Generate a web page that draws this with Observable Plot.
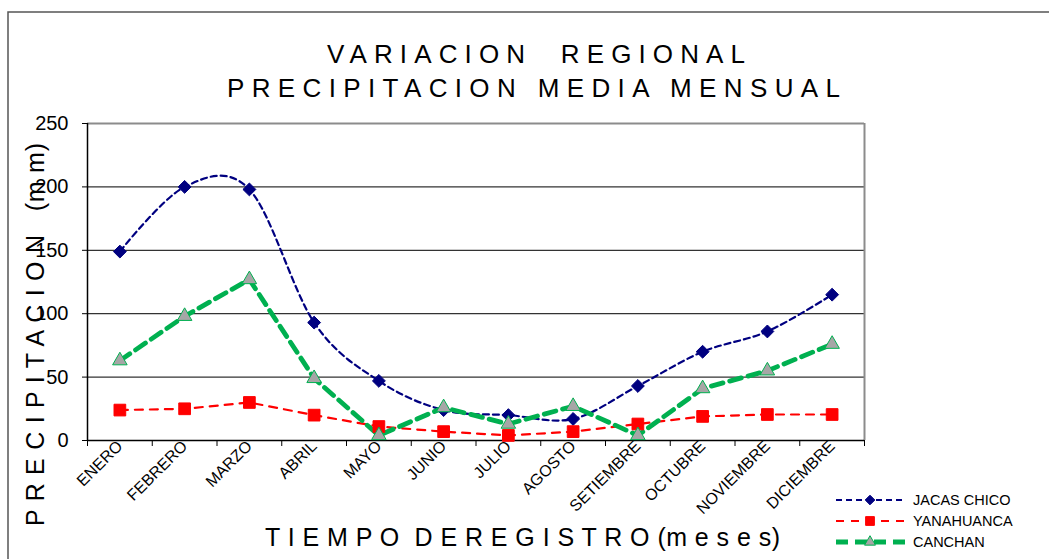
<!DOCTYPE html>
<html>
<head>
<meta charset="utf-8">
<script src="https://cdn.jsdelivr.net/npm/d3@7"></script>
<script src="https://cdn.jsdelivr.net/npm/@observablehq/plot@0.6"></script>
<style>
  html, body { margin: 0; padding: 0; background: #fff; }
  #chart { width: 1049px; height: 559px; }
</style>
</head>
<body>
<div id="chart"></div>
<script>
// Monthly mean precipitation (mm) for three stations
const months = ["ENERO", "FEBRERO", "MARZO", "ABRIL", "MAYO", "JUNIO", "JULIO",
                "AGOSTO", "SETIEMBRE", "OCTUBRE", "NOVIEMBRE", "DICIEMBRE"];
const jacasChico = [149, 200, 198, 93, 47, 24, 20, 17, 43, 70, 86, 115];
const yanahuanca = [24, 25, 30, 20, 11, 7, 4, 7, 13, 19, 20.5, 20.5];
const canchan    = [63, 98, 127, 49, 4, 26, 13, 27, 4, 41, 55, 76];
const yTicks = [0, 50, 100, 150, 200, 250];

const seriesNames = ["JACAS CHICO", "YANAHUANCA", "CANCHAN"];
const seriesValues = [jacasChico, yanahuanca, canchan];

const styles = {
  "JACAS CHICO": {color: "#000080", width: 2.2, dash: "6,4", symbol: "diamond2", r: 5.8, fill: "#000080", mstroke: "#000080", curve: "cardinal"},
  "YANAHUANCA":  {color: "#ff0000", width: 2.2, dash: "8,7", symbol: "square",   r: 6.6, fill: "#ff0000", mstroke: "#ff0000", curve: "linear"},
  "CANCHAN":     {color: "#00b050", width: 4.8, dash: "12,7", symbol: "triangle", r: 5.4, fill: "#a6a6a6", mstroke: "#00b050", curve: "linear"}
};

// Long table: one row per station and month
const rows = seriesNames.flatMap((name, s) =>
  seriesValues[s].map((v, i) => ({station: name, i, month: months[i], value: v})));

const boundaries = d3.range(13).map(k => k - 0.5);

const lineMarks = seriesNames.map(name => {
  const st = styles[name];
  const data = rows.filter(d => d.station === name);
  return Plot.line(data, {x: "i", y: "value", stroke: st.color, strokeWidth: st.width,
                          strokeDasharray: st.dash, curve: st.curve});
});
const markerMarks = seriesNames.map(name => {
  const st = styles[name];
  const data = rows.filter(d => d.station === name);
  return Plot.dot(data, {x: "i", y: "value", symbol: st.symbol, r: st.r,
                         fill: st.fill, stroke: st.mstroke, strokeWidth: 1});
});

const chart = Plot.plot({
  width: 1049,
  height: 559,
  marginLeft: 87,
  marginRight: 185,
  marginTop: 123,
  marginBottom: 119,
  style: {fontFamily: "'Liberation Sans', Arial, sans-serif", background: "#fff", color: "#000"},
  x: {type: "linear", domain: [-0.5, 11.5]},
  y: {domain: [0, 250]},
  marks: [
    Plot.ruleY([50, 100, 150, 200], {stroke: "#333", strokeWidth: 1.2}),
    Plot.ruleY([250], {stroke: "#8c8c8c", strokeWidth: 2}),
    Plot.ruleX([11.5], {stroke: "#8c8c8c", strokeWidth: 2}),
    Plot.axisY(yTicks, {tickSize: 5, tickPadding: 14, fontSize: 20, label: null, stroke: "#000"}),
    Plot.axisX(boundaries, {tickSize: 6, tickFormat: () => "", label: null, stroke: "#000"}),
    Plot.axisX(d3.range(12), {tickSize: 0, tickPadding: 3, tickRotate: -45,
                              tickFormat: i => months[i], fontSize: 16, label: null}),
    Plot.ruleY([0], {stroke: "#000", strokeWidth: 1.5}),
    Plot.ruleX([-0.5], {stroke: "#000", strokeWidth: 1.5}),
    ...lineMarks,
    ...markerMarks
  ]
});

document.getElementById("chart").appendChild(chart);

// Titles, axis captions, outer frame and legend drawn on top of the plot's SVG
const svg = d3.select(chart);
const font = "'Liberation Sans', Arial, sans-serif";

svg.append("path")
  .attr("d", "M8,559 L8,12 L1049,12")
  .attr("fill", "none").attr("stroke", "#555").attr("stroke-width", 1.5);

function spaced(text, x, y, len, size, rotate) {
  const t = svg.append("text")
    .attr("font-family", font).attr("font-size", size).attr("fill", "#000")
    .attr("textLength", len).attr("lengthAdjust", "spacing")
    .attr("text-anchor", "start")
    .style("white-space", "pre")
    .attr("xml:space", "preserve")
    .text(text);
  if (rotate) t.attr("transform", `translate(${x},${y}) rotate(-90)`);
  else t.attr("x", x).attr("y", y);
  return t;
}

spaced("VARIACION  REGIONAL", 327, 63, 418, 26);
spaced("PRECIPITACION MEDIA MENSUAL", 227, 97, 613, 26);
spaced("P R E C I P I T A C I O N   (m m)", 44, 526, 383, 25, true);
spaced("T I E M P O  D E R E G I S T R O (m e s e s)", 265, 546, 515, 25);

// Legend
const legend = svg.append("g").attr("text-anchor", "start");
seriesNames.forEach((name, k) => {
  const st = styles[name];
  const y = 500 + k * 21;
  legend.append("line")
    .attr("x1", 836).attr("x2", 905).attr("y1", y).attr("y2", y)
    .attr("stroke", st.color).attr("stroke-width", st.width)
    .attr("stroke-dasharray", st.dash);
  const symType = {diamond2: d3.symbolDiamond2, square: d3.symbolSquare, triangle: d3.symbolTriangle}[st.symbol];
  legend.append("path")
    .attr("d", d3.symbol(symType, Math.PI * (st.r * 0.75) ** 2)())
    .attr("transform", `translate(870,${y})`)
    .attr("fill", st.fill).attr("stroke", st.mstroke).attr("stroke-width", 1);
  legend.append("text")
    .attr("x", 913).attr("y", y + 5)
    .attr("text-anchor", "start")
    .attr("font-family", font).attr("font-size", 14.5)
    .text(name);
});
</script>
</body>
</html>
